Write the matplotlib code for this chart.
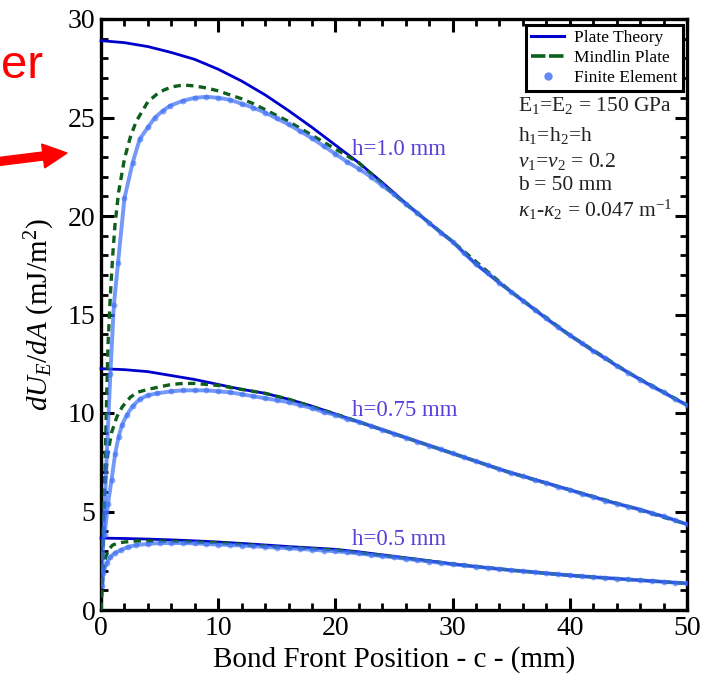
import matplotlib
matplotlib.use("Agg")
import matplotlib.pyplot as plt
import matplotlib.patches as mpatches
from matplotlib.lines import Line2D
from matplotlib.ticker import MultipleLocator

# ---------------- data ----------------
# Plate theory
plate_c = [0, 2, 4, 6, 8, 10, 12, 14, 16, 18, 20, 22, 24, 26, 28, 30, 32, 34, 36, 38, 40, 42, 44, 46, 48, 50]
plate_h10 = [28.9, 28.8, 28.6, 28.3, 27.95, 27.45, 26.85, 26.15, 25.35, 24.5, 23.6, 22.7, 21.7, 20.65, 19.65,
             18.7, 17.55, 16.6, 15.7, 14.8, 13.95, 13.15, 12.4, 11.7, 11.05, 10.4]
plate_h075 = [12.25, 12.2, 12.1, 11.9, 11.7, 11.45, 11.2, 11.0, 10.7, 10.35, 9.95, 9.55, 9.15, 8.75, 8.35,
              7.95, 7.55, 7.15, 6.8, 6.45, 6.1, 5.75, 5.4, 5.1, 4.75, 4.35]
plate_h05 = [3.65, 3.63, 3.6, 3.56, 3.51, 3.45, 3.38, 3.3, 3.22, 3.15, 3.08, 2.95, 2.8, 2.65, 2.5,
             2.34, 2.2, 2.08, 1.97, 1.86, 1.76, 1.67, 1.59, 1.51, 1.43, 1.35]

# Mindlin plate
mind_c10 = [0, 0.15, 0.3, 0.45, 0.6, 0.8, 1.0, 1.2, 1.5, 2, 2.5, 3, 4, 5, 6, 7, 8, 9, 10, 11, 12, 13, 14, 15,
            16, 18, 20, 22, 25, 30, 35, 40, 45, 50]
mind_h10 = [0, 3, 6, 10, 13.5, 16, 18, 19.6, 21.2, 22.9, 24.0, 24.8, 25.8, 26.3, 26.55, 26.65, 26.6, 26.5,
            26.35, 26.15, 25.95, 25.7, 25.4, 25.1, 24.8, 24.1, 23.4, 22.7, 21.1, 18.7, 16.15, 13.95, 12.05, 10.4]
mind_c075 = [0, 0.1, 0.2, 0.3, 0.45, 0.6, 0.9, 1.35, 1.8, 2.5, 3.1, 4, 4.8, 6, 7, 8, 9, 10, 12, 14, 16, 20,
             25, 30, 35, 40, 45, 50]
mind_h075 = [0, 2, 4, 6, 7.2, 8.0, 9.0, 9.8, 10.3, 10.8, 11.05, 11.2, 11.3, 11.45, 11.5, 11.5, 11.45, 11.4,
             11.2, 11.0, 10.7, 9.95, 8.95, 7.95, 6.95, 6.1, 5.25, 4.35]
mind_c05 = [0, 0.1, 0.2, 0.4, 0.7, 1.0, 1.5, 2, 3, 5, 8, 10, 15, 20, 25, 30, 35, 40, 45, 50]
mind_h05 = [0, 1.2, 2.0, 2.7, 3.1, 3.3, 3.4, 3.45, 3.5, 3.5, 3.45, 3.42, 3.2, 3.05, 2.7, 2.34, 2.02, 1.76,
            1.55, 1.35]

# Finite element
fe_c10 = [0.1, 0.3, 0.5, 0.8, 1.1, 1.45, 2.0, 2.7, 3.3, 4.0, 4.6, 5.3, 5.9, 7, 8, 9, 10, 11, 12, 13, 14, 15,
          16, 17, 18, 19, 20, 21, 22, 23, 24, 25, 26, 27, 28, 29, 30, 31, 32, 33, 34, 35, 36, 37, 38, 39, 40,
          41, 42, 43, 44, 45, 46, 47, 48, 49, 50]
fe_h10 = [2, 5, 8, 12, 15.5, 17.6, 20.9, 22.7, 23.9, 24.5, 25.0, 25.35, 25.6, 25.85, 26.0, 26.05, 26.0, 25.9,
          25.7, 25.5, 25.25, 24.95, 24.65, 24.3, 23.95, 23.55, 23.15, 22.75, 22.4, 22.0, 21.55, 21.1, 20.6,
          20.15, 19.65, 19.15, 18.7, 18.1, 17.55, 17.1, 16.6, 16.15, 15.7, 15.25, 14.8, 14.35, 13.95, 13.55,
          13.15, 12.8, 12.4, 12.05, 11.7, 11.35, 11.05, 10.7, 10.4]
fe_c075 = [0.3, 0.6, 0.9, 1.2, 1.5, 1.8, 2.2, 2.7, 3.3, 4, 4.8, 6, 7, 8, 9, 10, 11, 12, 13, 14, 15, 16, 17,
           18, 19, 20, 21, 22, 23, 24, 25, 26, 27, 28, 29, 30, 31, 32, 33, 34, 35, 36, 37, 38, 39, 40, 41, 42,
           43, 44, 45, 46, 47, 48, 49, 50]
fe_h075 = [3.8, 5.4, 6.6, 7.9, 8.8, 9.4, 9.9, 10.35, 10.7, 10.9, 11.0, 11.1, 11.15, 11.15, 11.15, 11.1,
           11.05, 10.95, 10.85, 10.75, 10.65, 10.55, 10.4, 10.25, 10.05, 9.9, 9.7, 9.55, 9.35, 9.15, 8.95,
           8.75, 8.55, 8.35, 8.15, 7.95, 7.75, 7.55, 7.35, 7.15, 6.95, 6.8, 6.6, 6.45, 6.25, 6.1, 5.9, 5.75,
           5.55, 5.4, 5.25, 5.1, 4.9, 4.75, 4.55, 4.35]
fe_c05 = [0.1, 0.2, 0.5, 0.8, 1.2, 1.7, 2.3, 3, 4, 5, 6, 7, 8, 9, 10, 11, 12, 13, 14, 15, 16, 17, 18, 19, 20,
          21, 22, 23, 24, 25, 26, 27, 28, 29, 30, 31, 32, 33, 34, 35, 36, 37, 38, 39, 40, 41, 42, 43, 44, 45,
          46, 47, 48, 49, 50]
fe_h05 = [1.2, 1.9, 2.4, 2.7, 2.9, 3.05, 3.2, 3.3, 3.35, 3.4, 3.4, 3.4, 3.38, 3.35, 3.32, 3.3, 3.27, 3.24,
          3.2, 3.17, 3.13, 3.1, 3.06, 3.02, 2.98, 2.93, 2.87, 2.8, 2.74, 2.67, 2.6, 2.53, 2.46, 2.39, 2.32,
          2.26, 2.2, 2.14, 2.08, 2.02, 1.97, 1.92, 1.86, 1.81, 1.76, 1.71, 1.67, 1.63, 1.59, 1.55, 1.51, 1.47,
          1.43, 1.39, 1.35]

legend_labels = ["Plate Theory", "Mindlin Plate", "Finite Element"]
curve_labels = ["h=1.0 mm", "h=0.75 mm", "h=0.5 mm"]
param_lines = [r"E$_1$=E$_2$ = 150 GPa", r"h$_1$=h$_2$=h", r"$\nu_1$=$\nu_2$ = 0.2", "b = 50 mm",
               r"$\kappa_1$-$\kappa_2$ = 0.047 m$^{-1}$"]

# ---------------- style ----------------
plt.rcParams['font.family'] = ['Liberation Serif', 'DejaVu Serif']
plt.rcParams['mathtext.fontset'] = 'custom'
plt.rcParams['mathtext.rm'] = 'Liberation Serif'
plt.rcParams['mathtext.it'] = 'Liberation Serif:italic'
plt.rcParams['mathtext.bf'] = 'Liberation Serif:bold'

PLATE = '#0000CC'
MIND = '#0E5E1C'
FE = '#3B6EF6'
LBL = '#5B40D8'

fig = plt.figure(figsize=(7.1, 6.83), dpi=100)
ax = fig.add_axes([101 / 710, 1 - 610 / 683, 586 / 710, 591 / 683])

for v in (plate_h10, plate_h075, plate_h05):
    ax.plot(plate_c, v, color=PLATE, lw=2.0, zorder=3, clip_on=False)
for c, v in ((mind_c10, mind_h10), (mind_c075, mind_h075), (mind_c05, mind_h05)):
    ax.plot(c, v, color=MIND, lw=2.4, dashes=(2.2, 1.6), zorder=4)
for c, v in ((fe_c10, fe_h10), (fe_c075, fe_h075), (fe_c05, fe_h05)):
    ax.plot(c, v, color=FE, lw=2.8, alpha=0.7, zorder=5, solid_capstyle='round')
    ax.plot(c, v, 'o', color=FE, ms=4.2, mec='none', alpha=0.6, zorder=6)

ax.set_xlim(0, 50)
ax.set_ylim(0, 30)
ax.xaxis.set_major_locator(MultipleLocator(10))
ax.xaxis.set_minor_locator(MultipleLocator(2))
ax.yaxis.set_major_locator(MultipleLocator(5))
ax.yaxis.set_minor_locator(MultipleLocator(1))
ax.tick_params(which='both', direction='in', top=True, right=True, labelsize=20, pad=4)
ax.tick_params(which='major', length=9, width=2.2)
ax.tick_params(which='minor', length=5, width=2.0)
for s in ax.spines.values():
    s.set_linewidth(2.4)

ax.set_xlabel("Bond Front Position - c - (mm)", fontsize=21, labelpad=4)
ax.set_ylabel(r"$dU_E/dA$ (mJ/m$^2$)", fontsize=21, labelpad=8)

# curve labels
ax.text(21.4, 23.4, curve_labels[0], color=LBL, fontsize=16.5, va='center', ha='left', zorder=7)
ax.text(21.4, 10.15, curve_labels[1], color=LBL, fontsize=16.5, va='center', ha='left', zorder=7)
ax.text(21.4, 3.6, curve_labels[2], color=LBL, fontsize=16.5, va='center', ha='left', zorder=7)

# legend
handles = [Line2D([], [], color=PLATE, lw=2.2),
           Line2D([], [], color=MIND, lw=2.6, dashes=(4, 1)),
           Line2D([], [], color=FE, marker='o', ls='none', ms=6, mec='none', alpha=0.8)]
leg = ax.legend(handles, legend_labels, loc='upper right',
                bbox_to_anchor=((683 - 101) / 586, (610 - 25) / 591), borderaxespad=0,
                fontsize=12.5, frameon=True, fancybox=False, framealpha=1, edgecolor='black',
                handlelength=1.9, handletextpad=0.6, labelspacing=0.2, borderpad=0.3)
leg.get_frame().set_linewidth(2.2)
leg.set_zorder(8)

# parameter block
for y_pix, txt in zip([106, 135, 161, 185, 210], param_lines):
    ax.text((518 - 101) / 586, (610 - y_pix) / 591, txt, transform=ax.transAxes, fontsize=15.5,
            va='center', ha='left', color='#222222', zorder=8)

# red partial text and arrow at left
fig.text(1 / 710, 1 - 78 / 683, "er", color='#FF0000', fontsize=34, ha='left', va='baseline',
         family='Liberation Sans')
arrow = mpatches.FancyArrow(-0.05, (683 - 162) / 100, 0.72, 0.09, width=0.08, head_width=0.24,
                            head_length=0.24, length_includes_head=True, color='#FF0000',
                            transform=fig.dpi_scale_trans)
fig.patches.append(arrow)

fig.savefig("out.png", dpi=100)
